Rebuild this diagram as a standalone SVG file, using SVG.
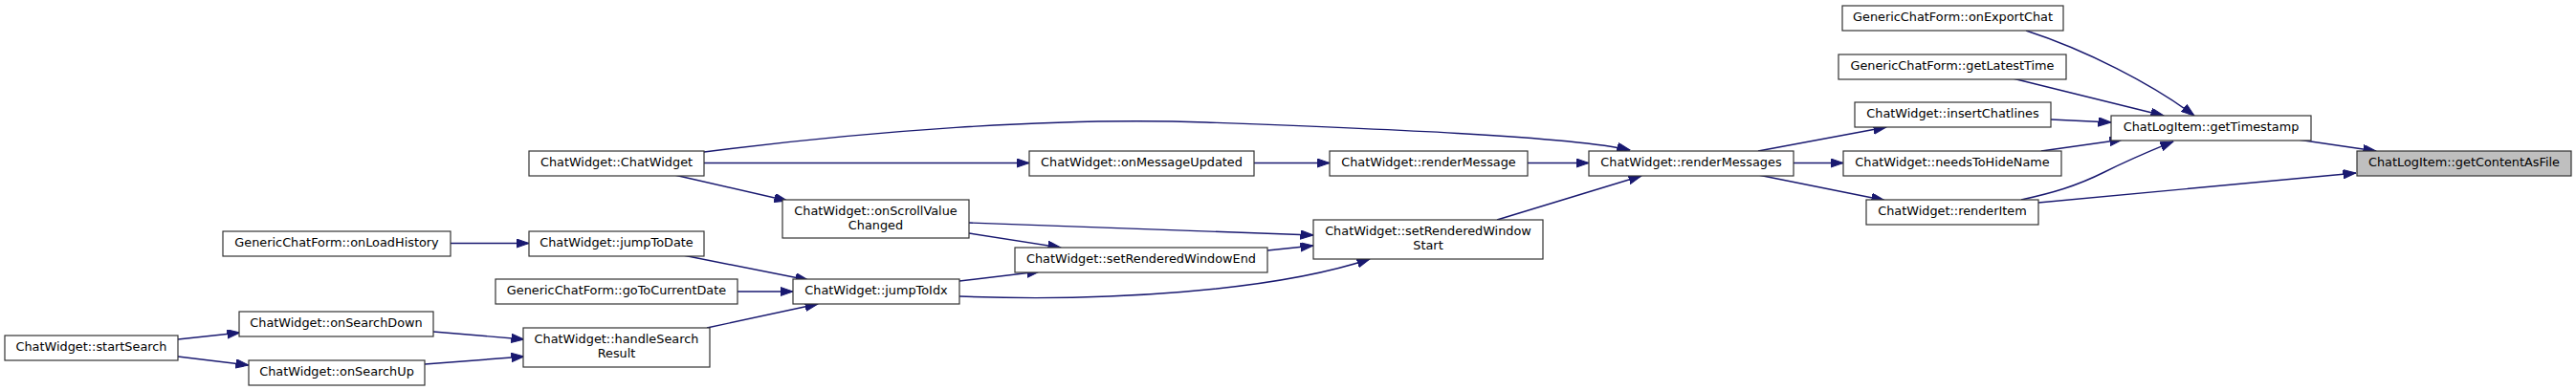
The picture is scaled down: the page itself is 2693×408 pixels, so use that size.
<svg xmlns="http://www.w3.org/2000/svg" width="2693" height="408" viewBox="0 0 2693 408">
<style>
.n rect{fill:#ffffff;stroke:#333333;stroke-width:1.2}
.n.hl rect{fill:#bfbfbf}
.n text{font-family:"DejaVu Sans","Liberation Sans",sans-serif;font-size:12.85px;fill:#000000;text-anchor:middle}
.e path{fill:none;stroke:#191970;stroke-width:1.4;marker-end:url(#ah)}
</style>
<defs>
<marker id="ah" markerUnits="userSpaceOnUse" markerWidth="14" markerHeight="10" refX="13.5" refY="4.7" orient="auto">
<path d="M0,0 L13.5,4.7 L0,9.4 z" fill="#191970" stroke="#191970" stroke-width="1"/>
</marker>
</defs>
<rect width="2693" height="408" fill="#ffffff"/>
<g id="connectors" class="e">
<path d="M2402,146 L2484,158"/>
<path d="M2131,212 L2463,181"/>
<path d="M2118,32 C2180,52 2250,88 2294,121"/>
<path d="M2104,82 L2262,121"/>
<path d="M2144,125 L2207,128"/>
<path d="M2134,158 L2219,146"/>
<path d="M2113,209 C2145,202 2170,195 2200,180 S2255,155 2272,148"/>
<path d="M1838,158 L1972,133"/>
<path d="M1875,170.5 L1927,170.5"/>
<path d="M1838,183 L1970,209.5"/>
<path d="M736,159 C900,138 1100,122 1261,128 C1420,134 1640,142 1704,157"/>
<path d="M736,170.5 L1076,170.5"/>
<path d="M705,183 L823,210"/>
<path d="M1311,170.5 L1390,170.5"/>
<path d="M1597,170.5 L1661,170.5"/>
<path d="M1565,230 L1716,184"/>
<path d="M1013,233 L1373,246"/>
<path d="M1013,244 L1109,259"/>
<path d="M1325,262 L1373,257"/>
<path d="M1003,294 L1087,284"/>
<path d="M1003,310 C1150,316 1330,305 1432,271"/>
<path d="M714,267 L845,293"/>
<path d="M771,305 L829,305"/>
<path d="M739,343 L855,318"/>
<path d="M471,254.5 L553,254.5"/>
<path d="M453,347 L548,355"/>
<path d="M444,381 L548,373"/>
<path d="M186,355 L251,348"/>
<path d="M186,373 L260,382"/>
</g>
<g id="startSearch" class="n"><rect x="5" y="351" width="181" height="26"/><text x="95.5" y="367">ChatWidget::startSearch</text></g>
<g id="onLoadHistory" class="n"><rect x="233" y="242" width="238" height="26"/><text x="352" y="258">GenericChatForm::onLoadHistory</text></g>
<g id="onSearchDown" class="n"><rect x="250" y="326" width="203" height="26"/><text x="351.5" y="342">ChatWidget::onSearchDown</text></g>
<g id="onSearchUp" class="n"><rect x="260" y="377" width="184" height="26"/><text x="352" y="393">ChatWidget::onSearchUp</text></g>
<g id="chatWidget" class="n"><rect x="553" y="158" width="183" height="26"/><text x="644.5" y="174">ChatWidget::ChatWidget</text></g>
<g id="jumpToDate" class="n"><rect x="553" y="242" width="183" height="26"/><text x="644.5" y="258">ChatWidget::jumpToDate</text></g>
<g id="goToCurrentDate" class="n"><rect x="518" y="292" width="253" height="26"/><text x="644.5" y="308">GenericChatForm::goToCurrentDate</text></g>
<g id="handleSearchResult" class="n"><rect x="547" y="343" width="195" height="41"/><text x="644.5" y="359">ChatWidget::handleSearch</text><text x="644.5" y="374">Result</text></g>
<g id="onScrollValueChanged" class="n"><rect x="818" y="209" width="195" height="40"/><text x="915.5" y="225">ChatWidget::onScrollValue</text><text x="915.5" y="240">Changed</text></g>
<g id="jumpToIdx" class="n"><rect x="829" y="292" width="174" height="26"/><text x="916" y="308">ChatWidget::jumpToIdx</text></g>
<g id="onMessageUpdated" class="n"><rect x="1076" y="158" width="235" height="26"/><text x="1193.5" y="174">ChatWidget::onMessageUpdated</text></g>
<g id="setRenderedWindowEnd" class="n"><rect x="1061" y="259" width="264" height="26"/><text x="1193" y="275">ChatWidget::setRenderedWindowEnd</text></g>
<g id="renderMessage" class="n"><rect x="1390" y="158" width="207" height="26"/><text x="1493.5" y="174">ChatWidget::renderMessage</text></g>
<g id="setRenderedWindowStart" class="n"><rect x="1373" y="230" width="240" height="41"/><text x="1493" y="246">ChatWidget::setRenderedWindow</text><text x="1493" y="261">Start</text></g>
<g id="renderMessages" class="n"><rect x="1661" y="158" width="214" height="26"/><text x="1768" y="174">ChatWidget::renderMessages</text></g>
<g id="onExportChat" class="n"><rect x="1926" y="6" width="231" height="26"/><text x="2041.5" y="22">GenericChatForm::onExportChat</text></g>
<g id="getLatestTime" class="n"><rect x="1922" y="57" width="238" height="26"/><text x="2041" y="73">GenericChatForm::getLatestTime</text></g>
<g id="insertChatlines" class="n"><rect x="1939" y="107" width="205" height="26"/><text x="2041.5" y="123">ChatWidget::insertChatlines</text></g>
<g id="needsToHideName" class="n"><rect x="1927" y="158" width="228" height="26"/><text x="2041" y="174">ChatWidget::needsToHideName</text></g>
<g id="renderItem" class="n"><rect x="1951" y="209" width="180" height="26"/><text x="2041" y="225">ChatWidget::renderItem</text></g>
<g id="getTimestamp" class="n"><rect x="2207" y="121" width="209" height="26"/><text x="2311.5" y="137">ChatLogItem::getTimestamp</text></g>
<g id="getContentAsFile" class="n hl"><rect x="2464" y="158" width="224" height="26"/><text x="2576" y="174">ChatLogItem::getContentAsFile</text></g>
</svg>
